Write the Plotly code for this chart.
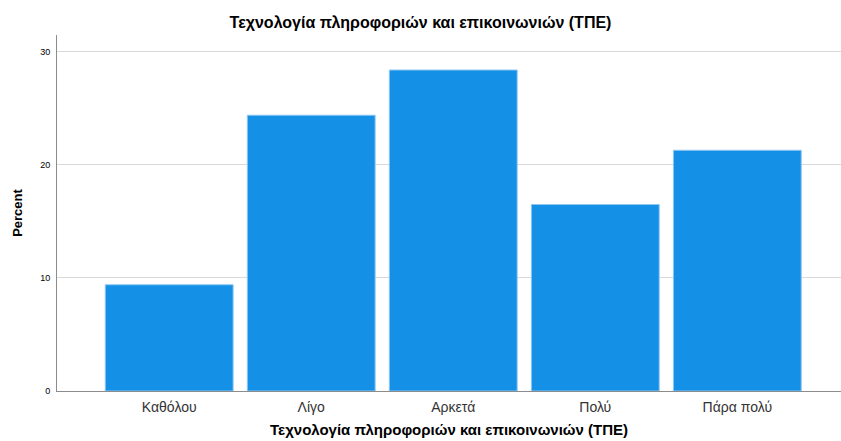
import plotly.graph_objects as go

categories = ["Καθόλου", "Λίγο", "Αρκετά", "Πολύ", "Πάρα πολύ"]
percent = [9.4, 24.4, 28.4, 16.5, 21.3]
y_ticks = [0, 10, 20, 30]
title_text = "Τεχνολογία πληροφοριών και επικοινωνιών (ΤΠΕ)"

W, H = 841, 441
fig = go.Figure(go.Bar(
    x=list(range(len(categories))), y=percent,
    marker=dict(color="#1490E6", line=dict(color="#8cc6f2", width=1)),
    width=0.9,
))

fig.update_layout(
    width=W, height=H,
    margin=dict(l=57, r=0, t=35, b=50, autoexpand=False),
    plot_bgcolor="white", paper_bgcolor="white",
    font=dict(family="Liberation Sans, Arial, sans-serif", color="#000"),
    showlegend=False,
    title=dict(text="<b>" + title_text + "</b>", x=0.5, xanchor="center",
               y=1 - 22 / H, yanchor="middle", yref="container",
               font=dict(size=16, color="#000")),
    xaxis=dict(range=[-0.79, 4.73], tickmode="array", automargin=False,
               tickvals=list(range(len(categories))), ticktext=categories,
               showgrid=False, zeroline=False, showline=True,
               linecolor="#8c8c8c", linewidth=1,
               tickfont=dict(size=14, color="#333"), ticks="",
               ticklabelstandoff=3,
               title=dict(text="<b>" + title_text + "</b>",
                          font=dict(size=15, color="#000"), standoff=10)),
    yaxis=dict(range=[0, 31.5], tickvals=y_ticks, automargin=False,
               showgrid=True, gridcolor="#d9d9d9", gridwidth=1,
               zeroline=False, showline=True, linecolor="#8c8c8c", linewidth=1,
               tickfont=dict(size=9, color="#000"), ticks="",
               ticklabelstandoff=4,
               title=dict(text="<b>Percent</b>", font=dict(size=13, color="#000"),
                          standoff=14)),
)

fig.write_html("out.html", config={"displayModeBar": False},
               post_script="document.body.style.margin='0';document.body.style.overflow='hidden';")
